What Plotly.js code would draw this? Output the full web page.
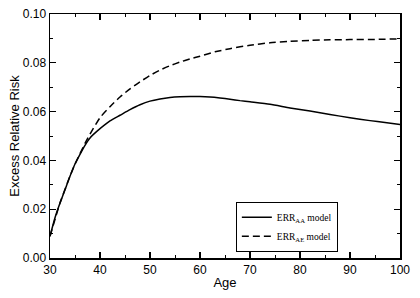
<!DOCTYPE html>
<html>
<head>
<meta charset="utf-8">
<script src="https://cdn.plot.ly/plotly-3.0.1.min.js"></script>
<style>html,body{margin:0;padding:0;background:#fff;}#chart{width:420px;height:298px;}</style>
</head>
<body>
<div id="chart"></div>
<script>
const ageAA = [30,31,32,33,34,35,36,37,38,40,42,44,46,48,50,52,54,56,58,60,62,64,66,68,70,74,78,82,86,90,94,97,100];
const errAA = [0.0089,0.0165,0.0225,0.0280,0.0335,0.0385,0.0425,0.0462,0.0492,0.0530,0.0562,0.0585,0.0608,0.0628,0.0643,0.0652,0.0658,0.0661,0.0662,0.0662,0.0660,0.0656,0.0651,0.0645,0.0640,0.0630,0.0615,0.0602,0.0588,0.0575,0.0563,0.0555,0.0547];
const ageAE = [30,32,34,35,36,37,38,40,42,44,46,48,50,52,54,56,58,60,63,66,70,74,78,82,86,90,95,100];
const errAE = [0.0089,0.0225,0.0335,0.0385,0.0428,0.0470,0.0508,0.0575,0.0620,0.0660,0.0693,0.0722,0.0748,0.0770,0.0788,0.0803,0.0816,0.0827,0.0845,0.0858,0.0872,0.0882,0.0888,0.0892,0.0894,0.0895,0.0896,0.0898];
const xTicks = [30,40,50,60,70,80,90,100];
const yTicks = [0,0.02,0.04,0.06,0.08,0.10];
const yTickText = ['0.00','0.02','0.04','0.06','0.08','0.10'];

const traces = [
  {x: ageAA, y: errAA, mode: 'lines', name: 'ERR<sub>AA</sub> model',
   line: {color: '#000', width: 1.5, shape: 'spline', smoothing: 0.6}},
  {x: ageAE, y: errAE, mode: 'lines', name: 'ERR<sub>AE</sub> model',
   line: {color: '#000', width: 1.5, dash: '7px,4px', shape: 'spline', smoothing: 0.6}}
];

function midpoints(a) { const m = []; for (let i = 0; i < a.length - 1; i++) m.push((a[i] + a[i + 1]) / 2); return m; }

const axisFont = {family: 'Liberation Sans, Arial, sans-serif', size: 12, color: '#000'};
const titleFont = {family: 'Liberation Sans, Arial, sans-serif', size: 13, color: '#000'};
const layout = {
  width: 420, height: 298,
  margin: {l: 50, r: 20, t: 14, b: 40},
  paper_bgcolor: '#fff', plot_bgcolor: '#fff',
  showlegend: true,
  legend: {x: 0.531, y: 0.231, xanchor: 'left', yanchor: 'top',
    bordercolor: '#000', borderwidth: 1, bgcolor: '#fff',
    font: {family: 'Liberation Serif, Times New Roman, serif', size: 9.5, color: '#000'},
    itemwidth: 30, tracegroupgap: 0},
  xaxis: {range: [xTicks[0], xTicks[xTicks.length - 1]], tickmode: 'array', tickvals: xTicks,
    ticks: 'inside', ticklen: 6, tickwidth: 1.2, tickcolor: '#000',
    showline: true, linecolor: '#000', linewidth: 1.5, mirror: 'allticks',
    minor: {tickmode: 'array', tickvals: midpoints(xTicks), ticks: 'inside', ticklen: 3, tickwidth: 1, tickcolor: '#000', showgrid: false},
    showgrid: false, zeroline: false, tickfont: axisFont,
    title: {text: 'Age', font: titleFont, standoff: 2}},
  yaxis: {range: [yTicks[0], yTicks[yTicks.length - 1]], tickmode: 'array', tickvals: yTicks, ticktext: yTickText,
    ticks: 'inside', ticklen: 6, tickwidth: 1.2, tickcolor: '#000',
    showline: true, linecolor: '#000', linewidth: 1.5, mirror: 'allticks',
    minor: {tickmode: 'array', tickvals: midpoints(yTicks), ticks: 'inside', ticklen: 3, tickwidth: 1, tickcolor: '#000', showgrid: false},
    showgrid: false, zeroline: false, tickfont: axisFont,
    title: {text: 'Excess Relative Risk', font: titleFont, standoff: 0}}
};
Plotly.newPlot('chart', traces, layout, {displayModeBar: false, staticPlot: true});
</script>
</body>
</html>
